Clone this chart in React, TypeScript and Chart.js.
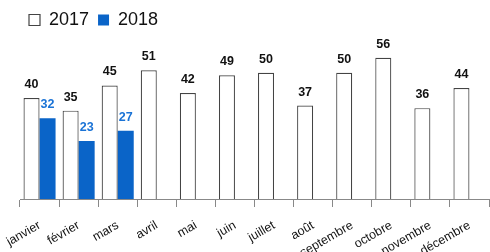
import React, { useEffect, useRef } from "react";
import { Chart, registerables } from "chart.js";

Chart.register(...registerables);

const months = [
  "janvier", "février", "mars", "avril", "mai", "juin",
  "juillet", "août", "septembre", "octobre", "novembre", "décembre",
];
const series2017 = [40, 35, 45, 51, 42, 49, 50, 37, 50, 56, 36, 44];
const series2018: (number | null)[] = [32, 23, 27, null, null, null, null, null, null, null, null, null];
const seriesNames = ["2017", "2018"];

const BLUE = "#0a64c8";
const LABEL_BLUE = "#1a73d6";
const FONT = "'Liberation Sans', Arial, sans-serif";

const valueLabels = {
  id: "valueLabels",
  afterDatasetsDraw(chart: any) {
    const ctx = chart.ctx;
    ctx.save();
    ctx.font = `bold 12.5px ${FONT}`;
    ctx.textAlign = "center";
    ctx.textBaseline = "alphabetic";
    chart.data.datasets.forEach((ds: any, i: number) => {
      const meta = chart.getDatasetMeta(i);
      ctx.fillStyle = i === 0 ? "#111" : LABEL_BLUE;
      meta.data.forEach((bar: any, j: number) => {
        const v = ds.data[j];
        if (v === null || v === undefined) return;
        ctx.fillText(String(v), bar.x, bar.y - 10);
      });
    });
    ctx.restore();
  },
};

export default function App() {
  const ref = useRef<HTMLCanvasElement>(null);
  useEffect(() => {
    if (!ref.current) return;
    const chart = new Chart(ref.current, {
      type: "bar",
      data: {
        labels: months,
        datasets: [
          {
            label: seriesNames[0],
            data: series2017,
            backgroundColor: "#ffffff",
            borderColor: "#444444",
            borderWidth: 1.2,
            categoryPercentage: 0.82,
            barPercentage: 1,
          },
          {
            label: seriesNames[1],
            data: series2018,
            backgroundColor: BLUE,
            borderWidth: 0,
            categoryPercentage: 0.82,
            barPercentage: 1,
          },
        ],
      },
      options: {
        animation: false,
        responsive: true,
        maintainAspectRatio: false,
        layout: { padding: { left: 20, right: 1, top: 2, bottom: 0 } },
        plugins: {
          tooltip: { enabled: false },
          legend: {
            display: true,
            position: "top",
            align: "start",
            labels: {
              boxWidth: 11,
              boxHeight: 11,
              padding: 9,
              color: "#111",
              font: { family: FONT, size: 18 },
            },
          },
        },
        scales: {
          x: {
            offset: true,
            grid: {
              offset: true,
              drawOnChartArea: false,
              drawTicks: true,
              tickLength: 8,
              color: "#888",
            },
            border: { display: true, color: "#888", width: 1 },
            ticks: {
              minRotation: 30,
              maxRotation: 30,
              color: "#111",
              padding: 11,
              font: { family: FONT, size: 12.5 },
            },
            afterFit: (scale: any) => {
              scale.height = 53;
              scale.paddingLeft = 0;
              scale.paddingRight = 0;
            },
          },
          y: {
            display: false,
            min: 0,
            max: 63.4,
          },
        },
      },
      plugins: [valueLabels],
    });
    return () => chart.destroy();
  }, []);
  return (
    <div style={{ position: "absolute", left: 0, top: 0, width: 490, height: 252 }}>
      <canvas ref={ref} />
    </div>
  );
}
